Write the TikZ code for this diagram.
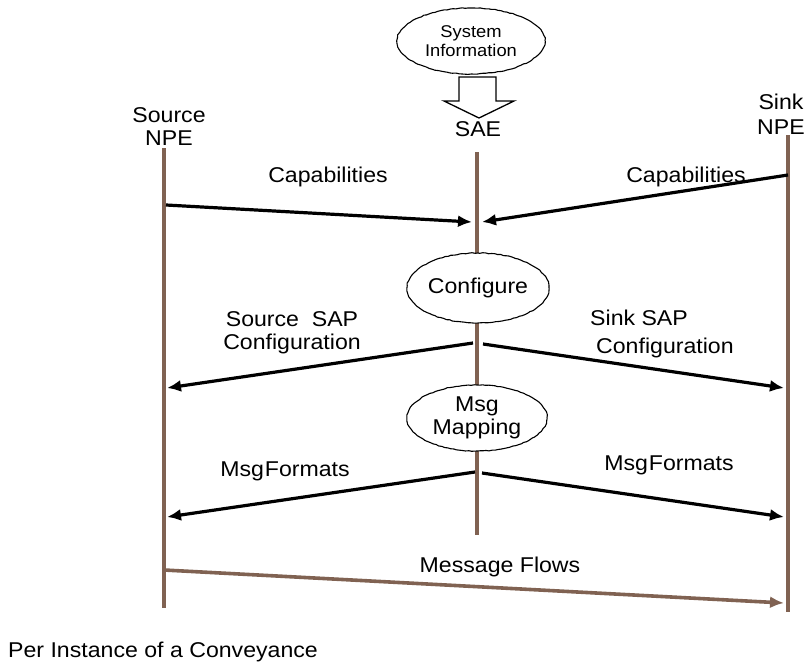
\documentclass[tikz,border=0pt]{standalone}
\usepackage{fontspec}
\setmainfont[FakeStretch=1.08]{Liberation Sans}
\usetikzlibrary{arrows.meta,shapes.geometric,decorations.pathmorphing}
\definecolor{life}{RGB}{128,98,82}
\begin{document}
\begin{tikzpicture}[x=1pt,y=-1pt,
  lbl/.style={font=\fontsize{21.4}{23}\selectfont, align=center, inner sep=0pt},
  lifeline/.style={draw=life, line width=3.6pt},
  msg/.style={draw=black, line width=3.2pt, -{Latex[length=14pt,width=12pt]}},
  flow/.style={draw=life, line width=3.6pt, -{Latex[length=14pt,width=12pt]}},
  blob/.style={ellipse, draw, fill=white, line width=1.1pt, inner sep=0pt, align=center,
    decorate, decoration={random steps,segment length=3pt,amplitude=0.4pt}},
  blockarrow/.style={draw, fill=white, line width=1.3pt, line join=miter}
]
\useasboundingbox (0,0) rectangle (811,664);

% lifelines
\coordinate (srcTop) at (164,148);  \coordinate (srcBot) at (164,608);
\coordinate (saeTop) at (477,152);  \coordinate (saeBot) at (477,535);
\coordinate (snkTop) at (788,135);  \coordinate (snkBot) at (788,612);
\draw[lifeline] (srcTop) -- (srcBot);
\draw[lifeline] (saeTop) -- (saeBot);
\draw[lifeline] (snkTop) -- (snkBot);

% processing steps on the SAE lifeline
\node[blob, minimum width=148pt, minimum height=66pt, font=\fontsize{17}{19}\selectfont] (sysinfo) at (471,41) {System\\Information};
\node[blob, minimum width=142pt, minimum height=70pt, font=\fontsize{21.4}{23}\selectfont] (configure) at (478,288) {Configure};
\node[blob, minimum width=140pt, minimum height=66pt, font=\fontsize{21.4}{23}\selectfont] (mapping) at (477,418) {Msg\\Mapping};

% hollow block arrow into the SAE
\draw[blockarrow] (459,77) -- (496,77) -- (496,101) -- (514,101) -- (479,118) -- (444,101) -- (459,101) -- cycle;

% participant names
\node[lbl] (srcName) at (169,127) {Source\\NPE};
\node[lbl] (saeName) at (478,129) {SAE};
\node[lbl, font=\fontsize{21.4}{25}\selectfont] (snkName) at (781,114) {Sink\\NPE};

% message end points
\coordinate (capLa) at (166,205); \coordinate (capLb) at (472,222);
\coordinate (capRa) at (788,175); \coordinate (capRb) at (482,222);
\coordinate (sapLa) at (473,343); \coordinate (sapLb) at (167,388);
\coordinate (sapRa) at (483,344); \coordinate (sapRb) at (784,388);
\coordinate (fmtLa) at (475,472); \coordinate (fmtLb) at (167,517);
\coordinate (fmtRa) at (482,473); \coordinate (fmtRb) at (784,517);
\coordinate (mfA) at (164,570);   \coordinate (mfB) at (784,603);

\draw[msg] (capLa) -- (capLb);
\draw[msg] (capRa) -- (capRb);
\draw[msg] (sapLa) -- (sapLb);
\draw[msg] (sapRa) -- (sapRb);
\draw[msg] (fmtLa) -- (fmtLb);
\draw[msg] (fmtRa) -- (fmtRb);
\draw[flow] (mfA) -- (mfB);

% message labels
\node[lbl] (capL) at (328,177) {Capabilities};
\node[lbl] (capR) at (686,177) {Capabilities};
\node[lbl] (sapL) at (292,333) {Source\ \ SAP\\Configuration};
\node[lbl, align=left, anchor=west, font=\fontsize{21.4}{28}\selectfont] (sapR) at (596,334) {\hspace*{-6pt}Sink SAP\\Configuration};
\node[lbl] (fmtL) at (285,471) {Msg\kern1pt Formats};
\node[lbl] (fmtR) at (669,465) {Msg\kern1pt Formats};
\node[lbl] (mf) at (500,567) {Message Flows};
\node[lbl, anchor=west] (note) at (8,652) {Per Instance of a Conveyance};
\end{tikzpicture}
\end{document}
